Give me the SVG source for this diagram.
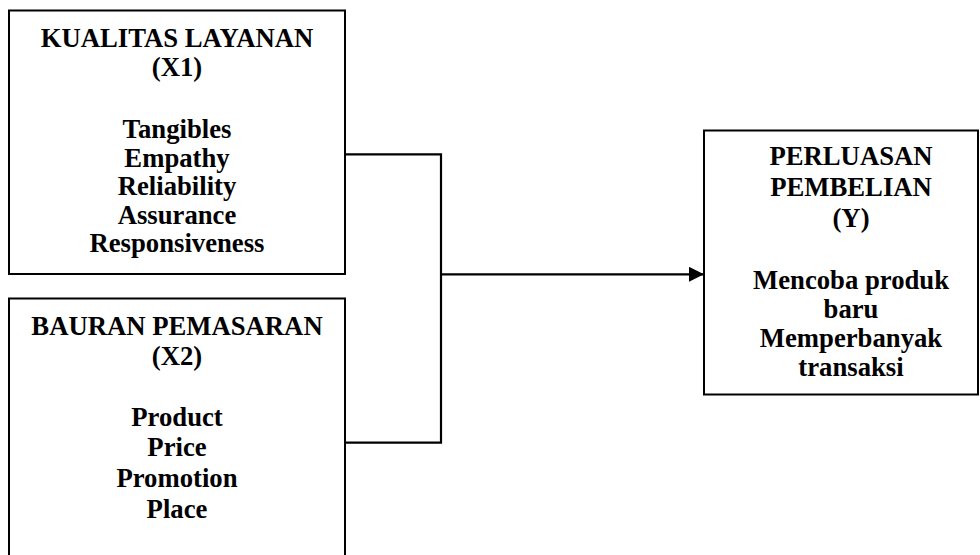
<svg xmlns="http://www.w3.org/2000/svg" width="980" height="555" viewBox="0 0 980 555">
<style>
.box{fill:#fff;stroke:#000;stroke-width:2}
.t{font-family:"Liberation Serif","Times New Roman",serif;font-weight:bold;font-size:26.7px;fill:#000;text-anchor:middle}
.c{fill:none;stroke:#000;stroke-width:2.2}
</style>
<defs>
<marker id="ah" markerWidth="16" markerHeight="16" refX="15" refY="7.5" orient="auto" markerUnits="userSpaceOnUse">
<path d="M0,0 L15,7.5 L0,15 Z" fill="#000"/>
</marker>
</defs>
<g id="connectors">
<polyline class="c" points="345,154.3 441,154.3 441,442.7 345,442.7"/>
<line class="c" x1="441" y1="274.3" x2="704" y2="274.3" marker-end="url(#ah)"/>
</g>
<g id="x1">
<rect class="box" x="9" y="10.5" width="336" height="263.5"/>
<text class="t" x="177" y="46.5">KUALITAS LAYANAN</text>
<text class="t" x="177" y="76">(X1)</text>
<text class="t" x="177" y="138">Tangibles</text>
<text class="t" x="177" y="166.5">Empathy</text>
<text class="t" x="177" y="195">Reliability</text>
<text class="t" x="177" y="223.5">Assurance</text>
<text class="t" x="177" y="252">Responsiveness</text>
</g>
<g id="x2">
<rect class="box" x="9" y="298.5" width="336" height="270"/>
<text class="t" x="177" y="334.5">BAURAN PEMASARAN</text>
<text class="t" x="177" y="365">(X2)</text>
<text class="t" x="177" y="426">Product</text>
<text class="t" x="177" y="456">Price</text>
<text class="t" x="177" y="487">Promotion</text>
<text class="t" x="177" y="517.5">Place</text>
</g>
<g id="y">
<rect class="box" x="704" y="130.5" width="274" height="264"/>
<text class="t" x="851" y="165">PERLUASAN</text>
<text class="t" x="851" y="196">PEMBELIAN</text>
<text class="t" x="851" y="227">(Y)</text>
<text class="t" x="851" y="288.5">Mencoba produk</text>
<text class="t" x="851" y="317.5">baru</text>
<text class="t" x="851" y="347">Memperbanyak</text>
<text class="t" x="851" y="376">transaksi</text>
</g>
</svg>
